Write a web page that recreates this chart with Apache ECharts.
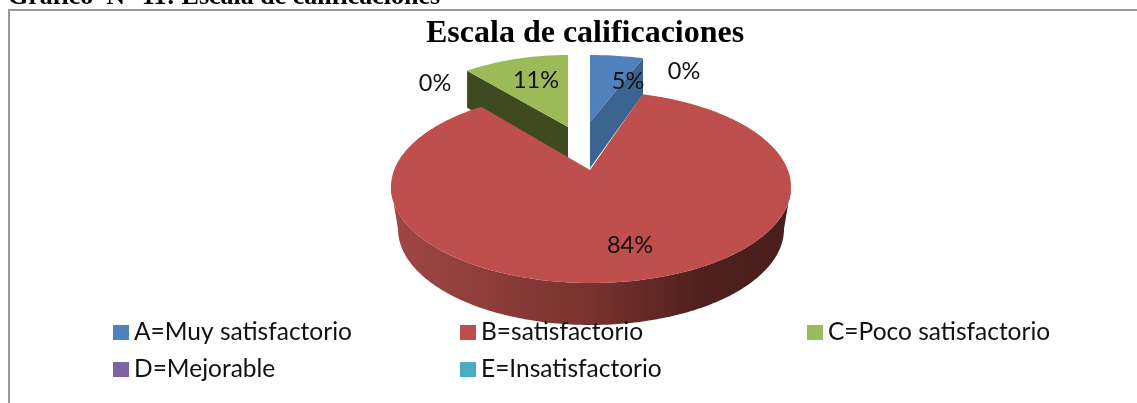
<!DOCTYPE html>
<html><head><meta charset="utf-8">
<style>html,body{margin:0;padding:0;background:#fff}#c{width:1137px;height:403px}</style>
<script src="https://cdn.jsdelivr.net/npm/echarts@6/dist/echarts.min.js"></script>
</head><body><div id="c"></div>
<script>
const categories = ['A=Muy satisfactorio','B=satisfactorio','C=Poco satisfactorio','D=Mejorable','E=Insatisfactorio'];
const percentages = [5, 84, 11, 0, 0];
const colors = ['#4f81bd','#be4f4c','#9bbb59','#8064a2','#4bacc6'];
const chartTitle = 'Escala de calificaciones';
const caption = 'Gráfico  N° 11: Escala de calificaciones';

// drawing layout of the 3D pie, by category
const RY = 96, PERSPECTIVE = 0.83, BOTTOM_RX = 193;
const layout = [
  {cx:590, cy:151, rx:205, ax:590, ay:122, faceColor:'#3c6491', depthOuter:36, depthApex:46, side:'end',   lx:628, ly:81},
  {cx:591, cy:187, rx:200, ax:590, ay:170, depthOuter:42, depthApex:42, lx:630, ly:245},
  {cx:568, cy:151, rx:184, ax:568, ay:127, faceColor:'#404a20', depthOuter:37, depthApex:37, side:'start', lx:536, ly:80},
  {lx:435, ly:83},
  {lx:684, ly:71}
];
const total = percentages.reduce((a,b)=>a+b,0);
const warp = deg => { // true pie angle -> angle on the foreshortened ellipse
  const r = deg*Math.PI/180;
  const t = 2*Math.atan(PERSPECTIVE*Math.tan(r/2));
  let d = t*180/Math.PI;
  if (deg > 180) d += 360;
  return d;
};
const pt = (cx,cy,rx,ry,d) => [cx+rx*Math.sin(d*Math.PI/180), cy-ry*Math.cos(d*Math.PI/180)];
let acc = 0;
const spans = percentages.map(v => { const s=[acc,acc+v*360/total]; acc+=v*360/total; return s; });

function renderSlice(idx){
  return function(params, api){
    const value = api.value(0);
    const g = layout[idx];
    const children = [];
    if (value > 0){
      const a0 = warp(spans[idx][0]);
      const a1 = spans[idx][1] >= 360 ? 360 : warp(spans[idx][1]);
      const arc = [];
      for (let d=a0; d<a1; d+=1) arc.push(pt(g.cx,g.cy,g.rx,RY,d));
      arc.push(pt(g.cx,g.cy,g.rx,RY,a1));
      if (g.faceColor){
        const outer = g.side==='end' ? arc[arc.length-1] : arc[0];
        children.push({type:'polygon', shape:{points:[[g.ax,g.ay],outer,[outer[0],outer[1]+g.depthOuter],[g.ax,g.ay+g.depthApex]]},
          style:{fill:g.faceColor}});
      } else {
        const wall = [];
        for (let d=90; d<=270; d+=1) wall.push(pt(g.cx,g.cy,g.rx,RY,d));
        for (let d=270; d>=90; d-=1) wall.push(pt(g.cx,g.cy+g.depthOuter,BOTTOM_RX,RY,d));
        children.push({type:'polygon', shape:{points:wall},
          style:{fill:new echarts.graphic.LinearGradient(1,0,0,0,[
            {offset:0,color:'#4a1e1c'},{offset:0.22,color:'#4f201e'},{offset:0.5,color:'#79322f'},{offset:1,color:'#a04744'}])}});
      }
      children.push({type:'polygon', shape:{points:[[g.ax,g.ay],...arc]}, style:{fill:api.visual('color')}});
    }
    children.push({type:'text', z2:50, style:{text:value+'%', x:g.lx, y:g.ly, align:'center', verticalAlign:'middle',
      font:'23.5px Lato', fill:'#111'}});
    return {type:'group', children};
  };
}

const series = categories.map((name,i)=>({
  type:'custom', name, z: i===1 ? 3 : 2,
  coordinateSystem:'none',
  itemStyle:{color:colors[i]},
  renderItem: renderSlice(i),
  data:[[percentages[i]]],
  silent:true, animation:false
}));

const legendBase = {orient:'vertical', top:320, itemWidth:16, itemHeight:15, itemGap:12, icon:'rect', z:20,
  padding:0, selectedMode:false, textStyle:{fontFamily:'Lato', fontSize:24.5, lineHeight:24, color:'#111'}};

const chart = echarts.init(document.getElementById('c'), null, {renderer:'canvas'});
chart.setOption({
  backgroundColor:'#fff', animation:false,
  title:{text:chartTitle, left:426, top:18, padding:0,
    textStyle:{fontFamily:'Liberation Serif', fontWeight:'bold', fontSize:32, color:'#000'}},
  legend:[
    {...legendBase, left:113, data:[categories[0],categories[3]]},
    {...legendBase, left:460, data:[categories[1],categories[4]]},
    {...legendBase, left:807, data:[categories[2]]}
  ],
  graphic:[
    {type:'rect', shape:{x:9,y:10,width:1200,height:420}, style:{fill:'none',stroke:'#999',lineWidth:2}, z:0},
    {type:'text', x:8, y:-16, style:{text:caption, font:'bold 26px "Liberation Serif"', fill:'#000'}, z:5}
  ],
  series
});
</script></body></html>
